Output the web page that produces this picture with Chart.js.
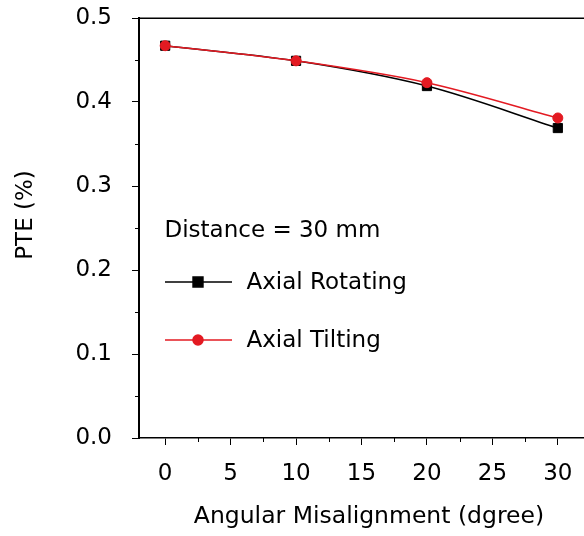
<!DOCTYPE html>
<html>
<head>
<meta charset="utf-8">
<script src="https://cdn.jsdelivr.net/npm/chart.js@4.4.1/dist/chart.umd.min.js"></script>
<style>
  html, body { margin: 0; padding: 0; background: #fff; overflow: hidden; }
</style>
</head>
<body>
<canvas id="graficoPte" width="584" height="536"></canvas>
<script>
const angles = [0, 10, 20, 30];
const rotating = [0.467, 0.449, 0.419, 0.369];
const tilting = [0.467, 0.449, 0.423, 0.381];
const xTicks = [0, 5, 10, 15, 20, 25, 30];
const xMinorTicks = [2.5, 7.5, 12.5, 17.5, 22.5, 27.5];
const yTicks = [0, 0.1, 0.2, 0.3, 0.4, 0.5];
const yMinorTicks = [0.05, 0.15, 0.25, 0.35, 0.45];
const seriesNames = ['Axial Rotating', 'Axial Tilting'];
const note = 'Distance = 30 mm';
const xTitle = 'Angular Misalignment (dgree)';
const yTitle = 'PTE (%)';

const fontFamily = '"DejaVu Sans", sans-serif';
const red = '#e31a22';

Chart.defaults.font.family = fontFamily;
Chart.defaults.font.size = 23;
Chart.defaults.color = '#000';

function toPoints(values) {
  return angles.map((a, i) => ({ x: a, y: values[i] }));
}

// no label overflow padding, the plot box is fixed
function noPadding(scale) {
  scale.paddingTop = 0;
  scale.paddingBottom = 0;
  scale.paddingLeft = 0;
  scale.paddingRight = 0;
}

// frame top, minor ticks, legend, note and axis titles
const extras = {
  id: 'extras',
  afterDraw(chart) {
    const ctx = chart.ctx;
    const sx = chart.scales.x;
    const sy = chart.scales.y;
    const area = chart.chartArea;
    ctx.save();
    ctx.strokeStyle = '#000';
    ctx.lineWidth = 1.5;
    ctx.beginPath();
    ctx.moveTo(area.left, area.top + 0.25);
    ctx.lineTo(area.right, area.top + 0.25);
    ctx.stroke();

    ctx.lineWidth = 1;
    xMinorTicks.forEach(v => {
      const px = Math.round(sx.getPixelForValue(v)) + 0.5;
      ctx.beginPath();
      ctx.moveTo(px, area.bottom);
      ctx.lineTo(px, area.bottom + 4);
      ctx.stroke();
    });
    yMinorTicks.forEach(v => {
      const py = Math.round(sy.getPixelForValue(v)) + 0.5;
      ctx.beginPath();
      ctx.moveTo(area.left - 4, py);
      ctx.lineTo(area.left, py);
      ctx.stroke();
    });

    ctx.fillStyle = '#000';
    ctx.font = '23px ' + fontFamily;
    ctx.textBaseline = 'alphabetic';
    ctx.textAlign = 'left';
    ctx.fillText(note, 164.5, 237);

    const legendY = [282, 340];
    chart.data.datasets.forEach((ds, i) => {
      const y = legendY[i];
      ctx.strokeStyle = ds.borderColor;
      ctx.lineWidth = ds.borderWidth;
      ctx.beginPath();
      ctx.moveTo(165, y);
      ctx.lineTo(232, y);
      ctx.stroke();
      ctx.fillStyle = ds.pointBackgroundColor;
      ctx.strokeStyle = ds.pointBorderColor;
      Chart.helpers.drawPoint(ctx, {
        pointStyle: ds.pointStyle,
        radius: ds.pointStyle === 'rect' ? 7 : 5,
        rotation: 0,
        borderWidth: 1
      }, 198, y);
      ctx.fillStyle = '#000';
      ctx.fillText(ds.label, 246.5, y + 7);
    });

    ctx.textAlign = 'center';
    ctx.font = '23.5px ' + fontFamily;
    ctx.fillText(xTitle, 369, 523);

    ctx.font = '23px ' + fontFamily;
    ctx.translate(32, 215);
    ctx.rotate(-Math.PI / 2);
    ctx.fillText(yTitle, 0, 0);
    ctx.restore();
  }
};

const graficoPte = new Chart(document.getElementById('graficoPte'), {
  type: 'line',
  data: {
    datasets: [{
      label: seriesNames[0],
      data: toPoints(rotating),
      borderColor: '#000',
      borderWidth: 1.5,
      pointStyle: 'rect',
      pointRadius: 6.5,
      pointBackgroundColor: '#000',
      pointBorderColor: '#000',
      pointBorderWidth: 1,
      cubicInterpolationMode: 'monotone',
      order: 1
    }, {
      label: seriesNames[1],
      data: toPoints(tilting),
      borderColor: red,
      borderWidth: 1.5,
      pointStyle: 'circle',
      pointRadius: 5,
      pointBackgroundColor: red,
      pointBorderColor: red,
      pointBorderWidth: 1,
      cubicInterpolationMode: 'monotone',
      order: 0
    }]
  },
  options: {
    responsive: false,
    devicePixelRatio: 1,
    animation: false,
    layout: { padding: { top: 18, left: 0, right: 0, bottom: 0 }, autoPadding: false },
    plugins: {
      legend: { display: false },
      tooltip: { enabled: false }
    },
    scales: {
      x: {
        type: 'linear',
        position: 'bottom',
        min: -2,
        max: 32,
        afterBuildTicks: s => { s.ticks = xTicks.map(v => ({ value: v })); },
        afterFit: s => { s.height = 98; noPadding(s); },
        grid: { drawOnChartArea: false, drawTicks: true, tickLength: 7, tickColor: '#000', tickWidth: 1 },
        border: { color: '#000', width: 1.5 },
        ticks: { padding: 15, maxRotation: 0, autoSkip: false, color: '#000' }
      },
      y: {
        type: 'linear',
        position: 'left',
        min: 0,
        max: 0.5,
        afterBuildTicks: s => { s.ticks = yTicks.map(v => ({ value: v })); },
        afterFit: s => { s.width = 139; noPadding(s); },
        grid: { drawOnChartArea: false, drawTicks: true, tickLength: 7, tickColor: '#000', tickWidth: 1 },
        border: { color: '#000', width: 2 },
        ticks: { padding: 20, color: '#000', callback: v => v.toFixed(1) }
      }
    }
  },
  plugins: [extras]
});
</script>
</body>
</html>
